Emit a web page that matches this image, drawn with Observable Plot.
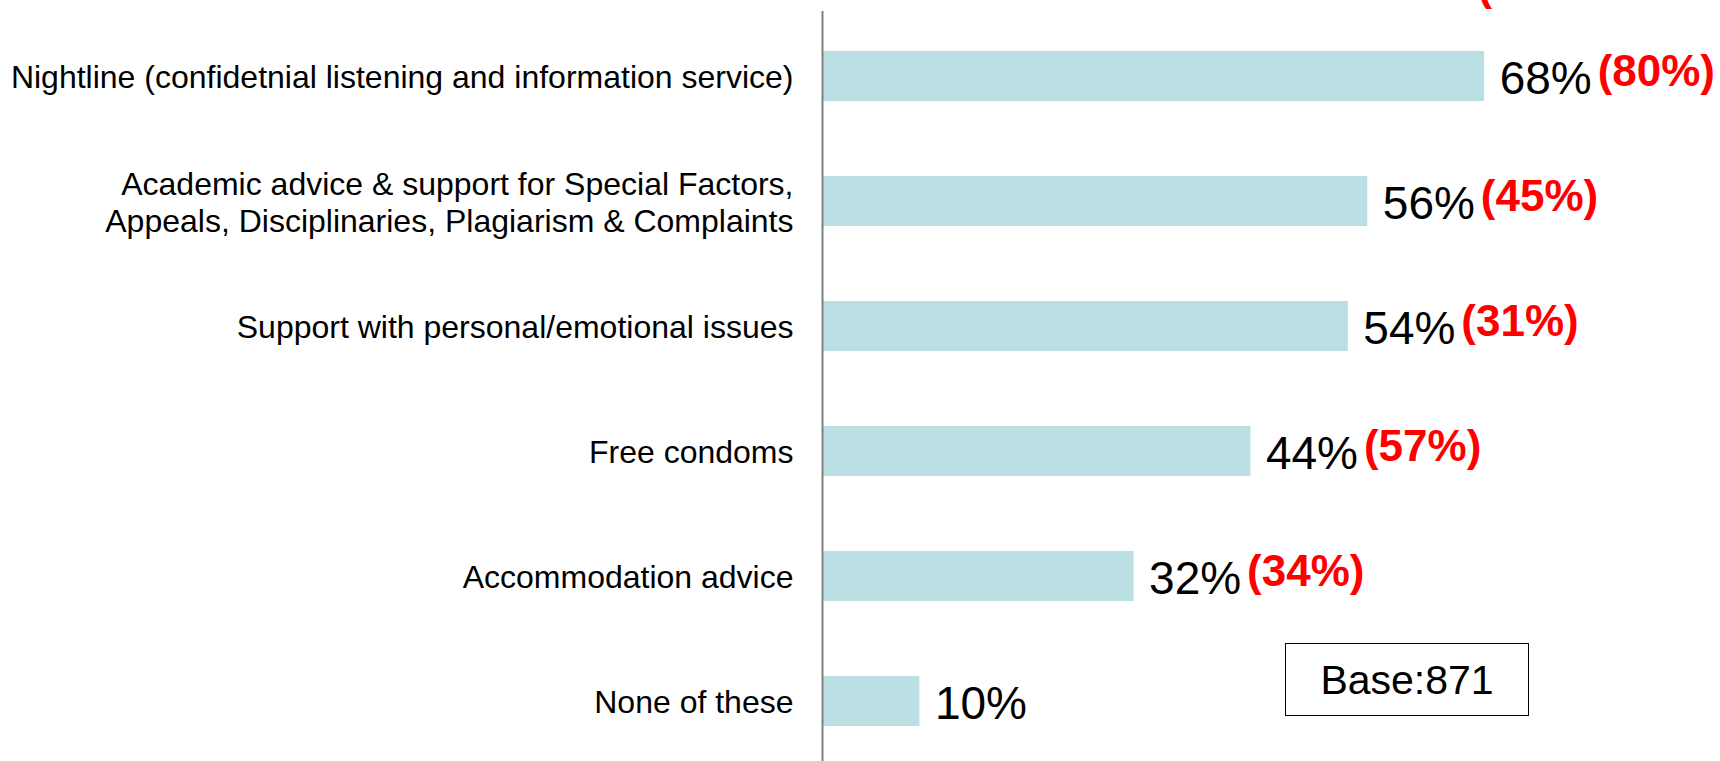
<!DOCTYPE html>
<html>
<head>
<meta charset="utf-8">
<script src="https://cdn.jsdelivr.net/npm/d3@7"></script>
<script src="https://cdn.jsdelivr.net/npm/@observablehq/plot@0.6"></script>
<style>
  html, body { margin: 0; padding: 0; background: #fff; }
  #wrap { position: relative; width: 1720px; height: 761px; overflow: hidden; font-family: "Liberation Sans", Arial, sans-serif; }
  #base {
    position: absolute; left: 1285px; top: 643px; width: 242px; height: 69px;
    border: 1.6px solid #000; font-size: 41px; color: #000;
    display: flex; align-items: center; justify-content: center; line-height: 1;
    padding-top: 2px; box-sizing: content-box;
  }
</style>
</head>
<body>
<div id="wrap"></div>
<script>
// Data
const categories = [
  "Nightline (confidetnial listening and information service)",
  "Academic advice & support for Special Factors,\nAppeals, Disciplinaries, Plagiarism & Complaints",
  "Support with personal/emotional issues",
  "Free condoms",
  "Accommodation advice",
  "None of these"
];
const currentValues = [68, 56, 54, 44, 32, 10];
const previousValues = [80, 45, 31, 57, 34, null];
const baseLabel = "Base:871";
const topNote = ["("];

const rows = categories.map((c, i) => ({cat: c, cur: currentValues[i], prev: previousValues[i]}));
const prevRows = rows.filter(d => d.prev != null);

const font = '"Liberation Sans", Arial, sans-serif';

const chart = Plot.plot({
  width: 1720,
  height: 761,
  marginLeft: 822,
  marginRight: 119,
  marginTop: 11,
  marginBottom: 0,
  style: {fontFamily: font, background: "#fff", color: "#000"},
  x: {domain: [0, 80], axis: null},
  y: {domain: categories, axis: null, paddingInner: 0.6, paddingOuter: 0.2856, align: 0.53},
  marks: [
    Plot.barX(rows, {x: "cur", y: "cat", fill: "#bbe0e3"}),
    Plot.ruleX([0], {stroke: "#808080", strokeWidth: 2}),
    Plot.text(rows, {
      x: 0, y: "cat", text: "cat", textAnchor: "end", dx: -29,
      fontSize: 32, lineHeight: 1.15, fill: "#000"
    }),
    Plot.text(rows, {
      x: "cur", y: "cat", text: d => d.cur + "%", textAnchor: "start",
      dx: 15, dy: 2.5, fontSize: 46, fill: "#000"
    }),
    Plot.text(prevRows, {
      x: "cur", y: "cat", text: d => "(" + d.prev + "%)", textAnchor: "start",
      dx: 113, dy: -4.5, fontSize: 44, fontWeight: "bold", fill: "#ff0000"
    }),
    Plot.text(topNote, {
      frameAnchor: "top-left", text: d => d, textAnchor: "start", lineAnchor: "bottom",
      dx: 655, dy: -12, fontSize: 44, fontWeight: "bold", fill: "#ff0000"
    })
  ]
});

const wrap = document.getElementById("wrap");
wrap.appendChild(chart);
const box = document.createElement("div");
box.id = "base";
box.textContent = baseLabel;
wrap.appendChild(box);
</script>
</body>
</html>
